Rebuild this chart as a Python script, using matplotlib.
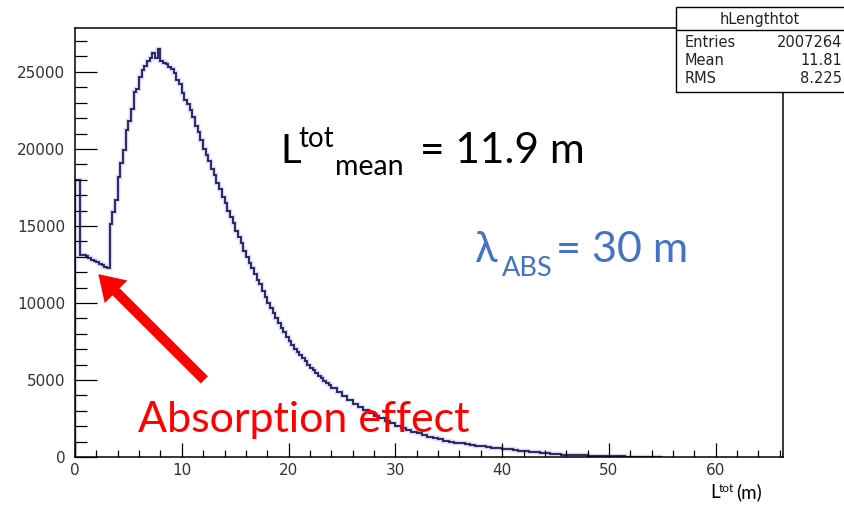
import numpy as np
import matplotlib.pyplot as plt
from matplotlib.patches import Rectangle, FancyArrowPatch
from matplotlib.ticker import MultipleLocator

W, H = 845, 505

# hLengthtot : total photon path length
# 0.25 m bins from 0 to 24 m
fine_counts = [
    18000, 17950,                                              # 0 - 0.5
    13100, 13100, 13050, 12900, 12800, 12700, 12650, 12550,    # 0.5 - 2.5
    12450, 12350, 12250,                                       # 2.5 - 3.25
    15100, 15900, 16700,                                       # 3.25 - 4
    18200, 19100, 19900, 21200, 21800, 22600, 23700, 23900,    # 4 - 6
    24700, 25100, 25400, 25700, 25900, 26200, 25900, 26500,    # 6 - 8
    25700, 25600, 25500, 25300, 25200, 24900, 24500, 24200,    # 8 - 10
    23600, 23200, 22900, 22500, 22100, 21500, 21100, 20600,    # 10 - 12
    20000, 19600, 19200, 18700, 18300, 17800, 17400, 16900,    # 12 - 14
    16500, 16000, 15600, 15200, 14700, 14300, 13900, 13400,    # 14 - 16
    13000, 12600, 12300, 11900, 11500, 11200, 10800, 10400,    # 16 - 18
    10000, 9700, 9350, 9000, 8700, 8400, 8100, 7800,           # 18 - 20
    7500, 7250, 7000, 6800, 6600, 6400, 6200, 6000,            # 20 - 22
    5800, 5620, 5450, 5280, 5100, 4950, 4800, 4650,            # 22 - 24
]
# 0.5 m bins from 24 to 55 m
tail_counts = [
    4500, 4220, 3950, 3700, 3470, 3250, 3050, 2860, 2680, 2500, 2340, 2190,
    2040, 1900, 1770, 1650, 1540, 1430, 1330, 1240, 1150, 1070, 990, 920,
    880, 830, 780, 730, 690, 650, 615, 580, 550, 505, 460, 420,
    380, 345, 310, 275, 240, 200, 180, 160, 145, 130, 115, 100,
    90, 80, 70, 60, 52, 45, 38, 32, 26, 20, 15, 10,
    6, 3,
]
counts = fine_counts + tail_counts
edges = np.concatenate([np.arange(len(fine_counts)) * 0.25,
                        24 + np.arange(len(tail_counts) + 1) * 0.5])

stats_name = "hLengthtot"
stats_rows = [("Entries", "2007264"), ("Mean", "11.81"), ("RMS", "8.225")]

x_max = 66.3
y_max = 27850

fig = plt.figure(figsize=(W / 100, H / 100), dpi=100)
ax = fig.add_axes([75 / W, 1 - 457 / H, (783 - 75) / W, (457 - 28) / H])

# soft halo under the histogram line, then the line itself
ax.stairs(counts, edges, color="#b9b9e6", lw=3.2, alpha=0.6)
ax.stairs(counts, edges, color="#1c1c5c", lw=1.3)

ax.set_xlim(0, x_max)
ax.set_ylim(0, y_max)

ax.xaxis.set_major_locator(MultipleLocator(10))
ax.xaxis.set_minor_locator(MultipleLocator(2))
ax.yaxis.set_major_locator(MultipleLocator(5000))
ax.yaxis.set_minor_locator(MultipleLocator(1000))

ax.tick_params(axis="x", which="major", direction="in", length=10, width=0.9, pad=4,
               labelsize=11, labelcolor="#333333")
ax.tick_params(axis="x", which="minor", direction="in", length=5, width=0.9)
ax.tick_params(axis="y", which="major", direction="in", length=16, width=0.9, pad=7,
               labelsize=11, labelcolor="#333333")
ax.tick_params(axis="y", which="minor", direction="in", length=8.5, width=0.9)
for s in ax.spines.values():
    s.set_linewidth(1.1)
    s.set_color("black")


def ftext(px, py, s, **kw):
    # place text by pixel position of its baseline
    return fig.text(px / W, 1 - py / H, s, va="baseline", **kw)


# stats box
box = Rectangle((676 / W, 1 - 92 / H), (848 - 676) / W, (92 - 7) / H,
                transform=fig.transFigure, fill=True, facecolor="white",
                edgecolor="black", lw=1.0, clip_on=False)
fig.patches.append(box)
fig.add_artist(plt.Line2D([676 / W, 848 / W], [1 - 30 / H, 1 - 30 / H],
                          transform=fig.transFigure, color="black", lw=1.0))
ftext(760, 24, stats_name, ha="center", fontsize=10.5, color="#222222")
for i, (name, val) in enumerate(stats_rows):
    yb = 47 + i * 18
    ftext(685, yb, name, ha="left", fontsize=10.5, color="#222222")
    ftext(842, yb, val, ha="right", fontsize=10.5, color="#222222")

# annotations
big = dict(family="Lato")
ftext(280, 163, "L", fontsize=29, color="black", **big)
ftext(298, 147, "tot", fontsize=20, color="black", **big)
ftext(335, 175, "mean", fontsize=20.5, color="black", **big)
ftext(420, 163, "= 11.9 m", fontsize=30.5, color="black", **big)

blue = "#4472c4"
ftext(474, 262, "λ", fontsize=30, color=blue, family=["Lato", "DejaVu Sans"])
ftext(502, 276, "ABS", fontsize=19.5, color=blue, **big)
ftext(556, 262, "= 30 m", fontsize=31, color=blue, **big)

ftext(138, 432, "Absorption effect", fontsize=31, color="red", **big)

arrow = FancyArrowPatch((12.3, 4880), (2.0, 12000),
                        arrowstyle="simple,head_length=0.9,head_width=1.15,tail_width=0.36",
                        mutation_scale=20, color="red", lw=0)
ax.add_patch(arrow)

# x axis title
ftext(710, 498, "L", fontsize=13.5, color="black", **big)
ftext(719, 492, "tot", fontsize=8.5, color="black", **big)
ftext(736, 498, "(m)", fontsize=13.5, color="black", **big)

fig.savefig("out.png", dpi=100)
